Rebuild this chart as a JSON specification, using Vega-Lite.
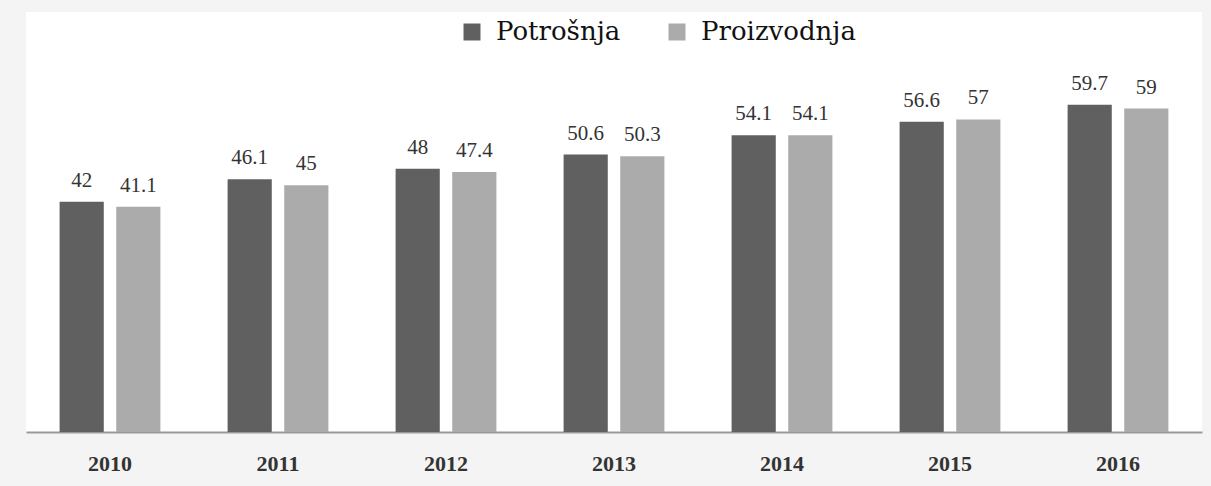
{
  "$schema": "https://vega.github.io/schema/vega-lite/v6.json",
  "width": 1176,
  "height": 420,
  "autosize": {"type": "none"},
  "padding": {"left": 26, "top": 12, "right": 9, "bottom": 54},
  "background": "#f4f4f4",
  "config": {
    "view": {"fill": "white", "stroke": null},
    "font": "Liberation Serif"
  },
  "data": {
    "values": [
      {"year": "2010", "series": "Potrošnja", "value": 42},
      {"year": "2010", "series": "Proizvodnja", "value": 41.1},
      {"year": "2011", "series": "Potrošnja", "value": 46.1},
      {"year": "2011", "series": "Proizvodnja", "value": 45},
      {"year": "2012", "series": "Potrošnja", "value": 48},
      {"year": "2012", "series": "Proizvodnja", "value": 47.4},
      {"year": "2013", "series": "Potrošnja", "value": 50.6},
      {"year": "2013", "series": "Proizvodnja", "value": 50.3},
      {"year": "2014", "series": "Potrošnja", "value": 54.1},
      {"year": "2014", "series": "Proizvodnja", "value": 54.1},
      {"year": "2015", "series": "Potrošnja", "value": 56.6},
      {"year": "2015", "series": "Proizvodnja", "value": 57},
      {"year": "2016", "series": "Potrošnja", "value": 59.7},
      {"year": "2016", "series": "Proizvodnja", "value": 59}
    ]
  },
  "encoding": {
    "x": {
      "field": "year",
      "type": "nominal",
      "scale": {"paddingInner": 0.4, "paddingOuter": 0.2},
      "axis": {
        "title": null,
        "labelAngle": 0,
        "ticks": false,
        "domainColor": "#9a9a9a",
        "domainWidth": 2,
        "labelFont": "Liberation Serif",
        "labelFontWeight": "bold",
        "labelFontSize": 22,
        "labelColor": "#333333",
        "labelPadding": 21
      }
    },
    "xOffset": {
      "field": "series",
      "type": "nominal",
      "scale": {"paddingInner": 0.22}
    },
    "y": {
      "field": "value",
      "type": "quantitative",
      "scale": {"domain": [0, 76.6], "nice": false},
      "axis": null
    }
  },
  "layer": [
    {
      "mark": {"type": "bar"},
      "encoding": {
        "color": {
          "field": "series",
          "type": "nominal",
          "scale": {"domain": ["Potrošnja", "Proizvodnja"], "range": ["#606060", "#ababab"]},
          "legend": {
            "title": null,
            "orient": "none",
            "direction": "horizontal",
            "legendX": 433,
            "legendY": 7,
            "padding": 0,
            "symbolType": "square",
            "symbolSize": 289,
            "symbolStrokeWidth": 0,
            "labelFont": "DejaVu Serif",
            "labelFontSize": 26,
            "labelColor": "#111111",
            "labelOffset": 11,
            "columnPadding": 43
          }
        }
      }
    },
    {
      "mark": {"type": "text", "baseline": "alphabetic", "dy": -15, "fontSize": 21, "color": "#333333", "font": "Liberation Serif"},
      "encoding": {
        "text": {"field": "value", "type": "quantitative"}
      }
    }
  ]
}
